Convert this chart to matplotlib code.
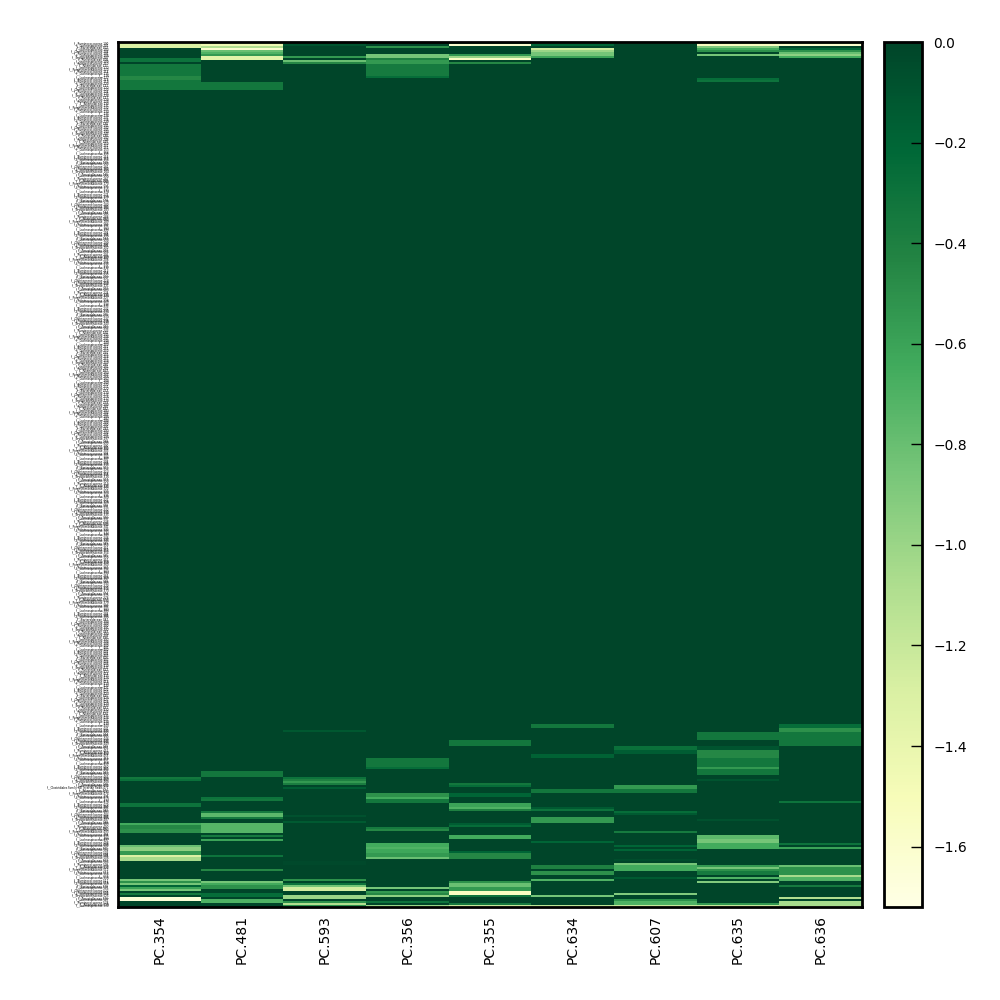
import matplotlib
matplotlib.use('Agg')
from matplotlib import pyplot as plt
import numpy as np

samples = ['PC.354', 'PC.481', 'PC.593', 'PC.356', 'PC.355',
           'PC.634', 'PC.607', 'PC.635', 'PC.636']
n_rows = 431

# taxa names repeat down the table, row 371 is the one long name
families = ['f__Ruminococcaceae', 'f__Lachnospiraceae', 'f__Bacteroidaceae',
            'f__Lachnospiraceae', 'f__Christensenellaceae', 'f__Ruminococcaceae',
            'f__Lachnospiraceae', 'f__Erysipelotrichaceae', 'f__Prevotellaceae',
            'f__Lachnospiraceae', 'f__Ruminococcaceae', 'f__Rikenellaceae',
            'f__Lachnospiraceae', 'f__Porphyromonadaceae', 'f__Ruminococcaceae',
            'f__Lachnospiraceae', 'f__', 'f__Lachnospiraceae', 'f__Ruminococcaceae']
long_family = 'f__Clostridiales Family XIII Incertae Sedis'
long_family_row = 371

# abundance bands per sample: (first row, last row, value), all other rows are 0
pc354 = [(0, 2, -1.3), (8, 9, -0.3), (11, 16, -0.33), (17, 18, -0.45), (19, 23, -0.33),
         (366, 366, -0.33), (367, 367, -0.28), (379, 380, -0.3), (389, 389, -0.65),
         (390, 391, -0.45), (392, 393, -0.5), (400, 400, -0.8), (401, 402, -0.95),
         (403, 404, -0.55), (405, 405, -1.3), (406, 407, -1.05), (417, 417, -0.85),
         (418, 418, -0.5), (419, 419, -0.85), (420, 420, -0.2), (421, 421, -0.6),
         (422, 422, -0.85), (424, 424, -0.35), (426, 427, -1.65)]
pc481 = [(0, 0, -1.2), (1, 1, -1.45), (2, 2, -1.1), (3, 3, -1.6), (4, 4, -0.8), (5, 5, -0.7),
         (6, 6, -0.55), (7, 8, -1.35), (20, 23, -0.33), (363, 365, -0.33), (376, 376, -0.3),
         (377, 377, -0.33), (383, 383, -0.35), (384, 385, -0.75), (386, 386, -0.35),
         (389, 393, -0.72), (395, 395, -0.35), (397, 397, -0.6), (405, 405, -0.3),
         (412, 412, -0.45), (418, 418, -0.85), (419, 419, -0.65), (420, 421, -0.5),
         (424, 425, -0.25), (427, 428, -0.7)]
pc593 = [(0, 0, -0.15), (1, 1, -0.1), (7, 7, -0.55), (9, 9, -0.8), (10, 10, -0.45),
         (343, 343, -0.12), (366, 366, -0.3), (367, 367, -0.4), (368, 368, -0.55),
         (369, 369, -0.38), (371, 371, -0.15), (385, 385, -0.08), (388, 388, -0.13),
         (408, 409, -0.03), (417, 417, -0.5), (419, 419, -0.3), (420, 420, -0.85),
         (421, 422, -1.25), (425, 426, -1.0), (428, 428, -0.5), (429, 429, -1.1),
         (430, 430, -0.5)]
pc356 = [(2, 2, -0.5), (6, 7, -0.85), (8, 8, -0.4), (9, 10, -0.55), (11, 16, -0.35),
         (17, 17, -0.25), (357, 360, -0.33), (361, 361, -0.25), (374, 375, -0.5),
         (376, 376, -0.65), (377, 378, -0.33), (391, 391, -0.35), (392, 392, -0.45),
         (399, 400, -0.65), (401, 401, -0.7), (402, 403, -0.62), (404, 405, -0.55),
         (406, 406, -0.8), (421, 421, -0.85), (423, 423, -0.55), (424, 424, -0.45),
         (425, 425, -0.95), (428, 428, -0.3), (430, 430, -1.0)]
pc355 = [(0, 0, -0.5), (1, 1, -1.6), (6, 6, -0.55), (7, 7, -1.0), (8, 8, -1.55), (10, 10, -0.45),
         (348, 350, -0.33), (369, 369, -0.33), (370, 370, -0.25), (374, 375, -0.2),
         (379, 380, -0.6), (381, 381, -0.7), (382, 382, -0.4), (389, 389, -0.15),
         (390, 390, -0.25), (395, 396, -0.65), (403, 403, -0.2), (404, 406, -0.45),
         (418, 418, -0.5), (419, 420, -0.8), (421, 422, -0.55), (423, 424, -1.55),
         (425, 425, -0.3), (429, 429, -0.35), (430, 430, -1.2)]
pc634 = [(0, 0, -0.45), (1, 1, -0.2), (3, 3, -1.25), (4, 4, -1.0), (5, 6, -0.85), (7, 7, -0.6),
         (340, 341, -0.33), (355, 356, -0.18), (372, 373, -0.33), (381, 381, -0.13),
         (382, 382, -0.3), (386, 388, -0.55), (398, 398, -0.2), (410, 411, -0.4),
         (413, 414, -0.5), (417, 417, -0.7), (425, 425, -0.85), (430, 430, -1.15)]
pc607 = [(0, 0, -0.3), (351, 352, -0.28), (353, 354, -0.15), (370, 371, -0.55),
         (372, 373, -0.33), (383, 383, -0.25), (384, 384, -0.13), (393, 393, -0.35),
         (400, 400, -0.2), (402, 402, -0.2), (407, 407, -0.05), (409, 409, -0.85),
         (410, 412, -0.65), (416, 416, -0.13), (424, 424, -0.9), (427, 427, -0.5),
         (428, 429, -0.7), (430, 430, -1.2)]
pc635 = [(0, 0, -1.0), (1, 1, -1.55), (2, 2, -0.9), (3, 3, -0.65), (4, 4, -0.5), (6, 6, -0.85),
         (18, 18, -0.25), (19, 19, -0.3), (344, 347, -0.33), (351, 352, -0.1),
         (353, 356, -0.45), (357, 360, -0.33), (361, 361, -0.55), (362, 364, -0.33),
         (367, 367, -0.1), (387, 387, -0.08), (395, 396, -0.75), (397, 398, -0.85),
         (399, 401, -0.65), (410, 410, -0.55), (411, 411, -0.85), (412, 412, -0.5),
         (413, 414, -0.35), (416, 416, -0.7), (418, 418, -0.9), (429, 429, -0.55),
         (430, 430, -1.2)]
pc636 = [(0, 0, -1.0), (1, 1, -1.6), (3, 3, -0.2), (4, 4, -0.5), (5, 5, -0.8), (6, 6, -0.95),
         (7, 7, -0.65), (340, 341, -0.25), (342, 343, -0.5), (344, 350, -0.33),
         (378, 378, -0.3), (399, 399, -0.3), (401, 401, -0.6), (410, 410, -0.8),
         (411, 414, -0.5), (415, 415, -1.05), (416, 417, -0.7), (420, 420, -0.35),
         (426, 426, -1.1), (428, 430, -1.05)]
columns = [pc354, pc481, pc593, pc356, pc355, pc634, pc607, pc635, pc636]


def main():
    matrix = np.zeros((n_rows, len(samples)))
    for col, bands in enumerate(columns):
        for first, last, value in bands:
            matrix[first:last + 1, col] = value

    labels = []
    for row in range(n_rows):
        family = families[row % len(families)]
        if row == long_family_row:
            family = long_family
        labels.append(f'{family} {100 + row}')

    fig = plt.figure(figsize=(10, 10), dpi=100)
    ax = fig.add_axes([0.118, 0.093, 0.744, 0.865])
    cax = fig.add_axes([0.884, 0.093, 0.038, 0.865])

    mesh = ax.pcolormesh(matrix, cmap='YlGn', vmin=-1.72, vmax=0, rasterized=True)
    ax.invert_yaxis()
    ax.set_xticks(np.arange(len(samples)) + 0.5)
    ax.set_xticklabels(samples, rotation=90, fontsize=10)
    ax.set_yticks(np.arange(len(labels)) + 0.5)
    ax.set_yticklabels(labels, fontsize=2)
    ax.tick_params(axis='both', length=0)
    ax.tick_params(axis='x', pad=6)
    ax.tick_params(axis='y', pad=7)

    bar = fig.colorbar(mesh, cax=cax)
    bar.set_ticks(np.arange(-1.6, 0.01, 0.2))
    bar.ax.tick_params(direction='in', length=8, width=1, labelsize=10, pad=8)

    for axis in [ax, cax]:
        for spine in axis.spines.values():
            spine.set_linewidth(2)
    bar.outline.set_linewidth(2)

    fig.savefig('out.png', dpi=100)


if __name__ == '__main__':
    main()
